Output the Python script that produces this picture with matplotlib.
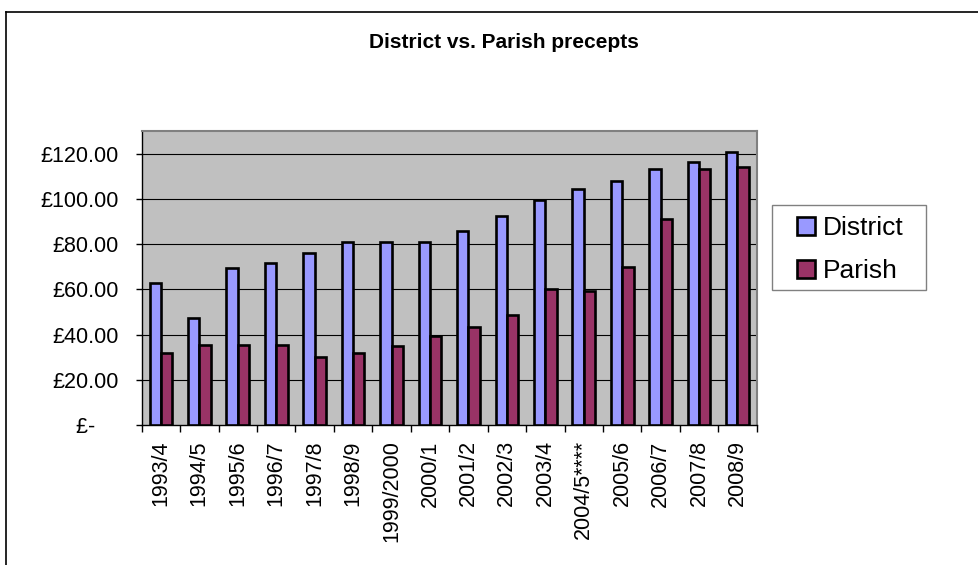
import numpy as np
import matplotlib
matplotlib.use("Agg")
from matplotlib import pyplot as plt
from matplotlib.lines import Line2D
from matplotlib.patches import Rectangle

plt.rcParams['font.family'] = ['Liberation Sans', 'DejaVu Sans']

years = ["1993/4", "1994/5", "1995/6", "1996/7", "1997/8", "1998/9", "1999/2000",
         "2000/1", "2001/2", "2002/3", "2003/4", "2004/5****", "2005/6", "2006/7",
         "2007/8", "2008/9"]
district = [63.0, 47.5, 69.5, 71.7, 76.0, 81.0, 81.0, 81.0, 86.0, 92.5, 99.6,
            104.4, 107.8, 113.1, 116.4, 120.9]
parish = [31.7, 35.4, 35.2, 35.4, 30.1, 31.9, 34.8, 39.5, 43.2, 48.7, 60.0,
          59.3, 69.8, 91.2, 113.0, 113.9]
y_ticks = [0, 20, 40, 60, 80, 100, 120]
y_labels = ["£-    ", "£20.00", "£40.00", "£60.00", "£80.00", "£100.00", "£120.00"]

W, H = 979, 565
fig = plt.figure(figsize=(W/100, H/100), dpi=100)
ax = fig.add_axes([141.7/W, 1-425/H, (756.7-141.7)/W, (425-130.6)/H])
ax.set_facecolor("#C0C0C0")

x = np.arange(len(years))
w = 0.295
ax.bar(x - w/2, district, w, color="#9999FF", edgecolor="black", linewidth=1.9,
       label="District", zorder=3)
ax.bar(x + w/2, parish, w, color="#993366", edgecolor="black", linewidth=1.9,
       label="Parish", zorder=3)

ax.set_xlim(-0.5, len(years) - 0.5)
ax.set_ylim(0, 130.2)
ax.set_yticks(y_ticks)
ax.set_yticklabels(y_labels, fontsize=15.5)
ax.set_xticks(x)
ax.set_xticklabels(years, rotation=90, fontsize=15.5)
ax.set_xticks(np.arange(len(years) + 1) - 0.5, minor=True)
ax.tick_params(axis="x", which="major", length=0, pad=11)
ax.tick_params(axis="x", which="minor", length=5, width=1, direction="out")
ax.tick_params(axis="y", length=4.3, width=1, direction="out", pad=12)

for v in y_ticks[1:]:
    ax.axhline(v, color="black", linewidth=0.8, zorder=1)

for s in ["top", "right"]:
    ax.spines[s].set_color("#808080")
    ax.spines[s].set_linewidth(1.5)
for s in ["left", "bottom"]:
    ax.spines[s].set_color("black")
    ax.spines[s].set_linewidth(1)

fig.text(504/W, 1-43/H, "District vs. Parish precepts", ha="center", va="center",
         fontsize=15, fontweight="bold")

# legend: frame drawn separately so the padding can match
fig.add_artist(Rectangle((772/W, 1-290/H), (926-772)/W, (290-205)/H,
                         transform=fig.transFigure, facecolor="white",
                         edgecolor="#808080", linewidth=1, zorder=2))
handles, labels = ax.get_legend_handles_labels()
leg = fig.legend(handles, labels, loc="upper left", bbox_to_anchor=(797/W, 1-216/H),
                 fontsize=19, frameon=False,
                 handlelength=0.7, handleheight=0.7, handletextpad=0.28,
                 labelspacing=0.72, borderpad=0, borderaxespad=0)
leg.set_zorder(5)

fig.add_artist(Line2D([6/W, 6/W], [0, 1-12/H], color="black", linewidth=1.2,
                      transform=fig.transFigure))
fig.add_artist(Line2D([6/W, 1], [1-12/H, 1-12/H], color="black", linewidth=1.2,
                      transform=fig.transFigure))

fig.savefig("out.png", dpi=100)
